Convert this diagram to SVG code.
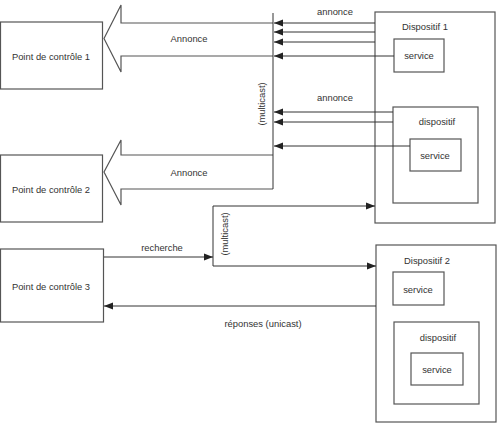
<svg xmlns="http://www.w3.org/2000/svg" width="498" height="426" viewBox="0 0 498 426">
<defs>
<marker id="ah" markerWidth="10" markerHeight="8" refX="9" refY="4" orient="auto" markerUnits="userSpaceOnUse">
<path d="M0,0.5 L9,4 L0,7.5 Z" fill="#222"/>
</marker>
<style>
.b{fill:#fff;stroke:#555;stroke-width:1.2}
.l{fill:none;stroke:#333;stroke-width:1}
.t{font-family:"Liberation Sans",Arial,sans-serif;font-size:9.4px;fill:#333;text-anchor:middle;dominant-baseline:central}
</style>
</defs>
<rect width="498" height="426" fill="#fff"/>
<g id="pc1"><rect class="b" x="0.5" y="22" width="102" height="67"/><text class="t" x="51" y="56">Point de contrôle 1</text></g>
<g id="pc2"><rect class="b" x="0.5" y="155" width="102" height="67"/><text class="t" x="51" y="189">Point de contrôle 2</text></g>
<g id="pc3"><rect class="b" x="0.5" y="249" width="103" height="73"/><text class="t" x="51" y="286">Point de contrôle 3</text></g>
<g id="dispositif1">
<rect class="b" x="375" y="12" width="120" height="211"/>
<text class="t" x="425" y="26">Dispositif 1</text>
<g id="service1"><rect class="b" x="394" y="39" width="50" height="33"/><text class="t" x="419" y="55">service</text></g>
<g id="dispositif1a"><rect class="b" x="393" y="107" width="85" height="96"/><text class="t" x="437" y="121">dispositif</text>
<g id="service1a"><rect class="b" x="410" y="139" width="51" height="32"/><text class="t" x="435" y="155">service</text></g></g>
</g>
<g id="dispositif2">
<rect class="b" x="376" y="245" width="120" height="177"/>
<text class="t" x="427" y="260">Dispositif 2</text>
<g id="service2"><rect class="b" x="393" y="272" width="51" height="33"/><text class="t" x="418" y="289">service</text></g>
<g id="dispositif2a"><rect class="b" x="394" y="322" width="85" height="82"/><text class="t" x="438" y="337">dispositif</text>
<g id="service2a"><rect class="b" x="411" y="353" width="52" height="32"/><text class="t" x="437" y="369">service</text></g></g>
</g>
<g id="connectors">
<path class="b" d="M273,23 H121 V5 L104,38.5 L121,72 V56 H273"/>
<text class="t" x="189" y="38.5">Annonce</text>
<path class="b" d="M273,155 H121 V140 L104,172 L121,205 V189 H273"/>
<text class="t" x="189" y="172">Annonce</text>
<path class="l" d="M273,13 V189"/>
<text class="t" transform="translate(261,104) rotate(-90)">(multicast)</text>
<text class="t" x="335" y="11">annonce</text>
<path class="l" d="M375,23 H274" marker-end="url(#ah)"/>
<path class="l" d="M375,32 H274" marker-end="url(#ah)"/>
<path class="l" d="M375,42 H274" marker-end="url(#ah)"/>
<path class="l" d="M394,56 H274" marker-end="url(#ah)"/>
<text class="t" x="335" y="97">annonce</text>
<path class="l" d="M393,112 H274" marker-end="url(#ah)"/>
<path class="l" d="M393,122 H274" marker-end="url(#ah)"/>
<path class="l" d="M410,146 H274" marker-end="url(#ah)"/>
<path class="l" d="M104,257 H213" marker-end="url(#ah)"/>
<text class="t" x="162" y="247">recherche</text>
<path class="l" d="M213,257 V206 H375" marker-end="url(#ah)"/>
<path class="l" d="M213,257 V266 H376" marker-end="url(#ah)"/>
<text class="t" transform="translate(224,234) rotate(-90)">(multicast)</text>
<path class="l" d="M376,306 H104" marker-end="url(#ah)"/>
<text class="t" x="263" y="323">réponses (unicast)</text>
</g>
</svg>
